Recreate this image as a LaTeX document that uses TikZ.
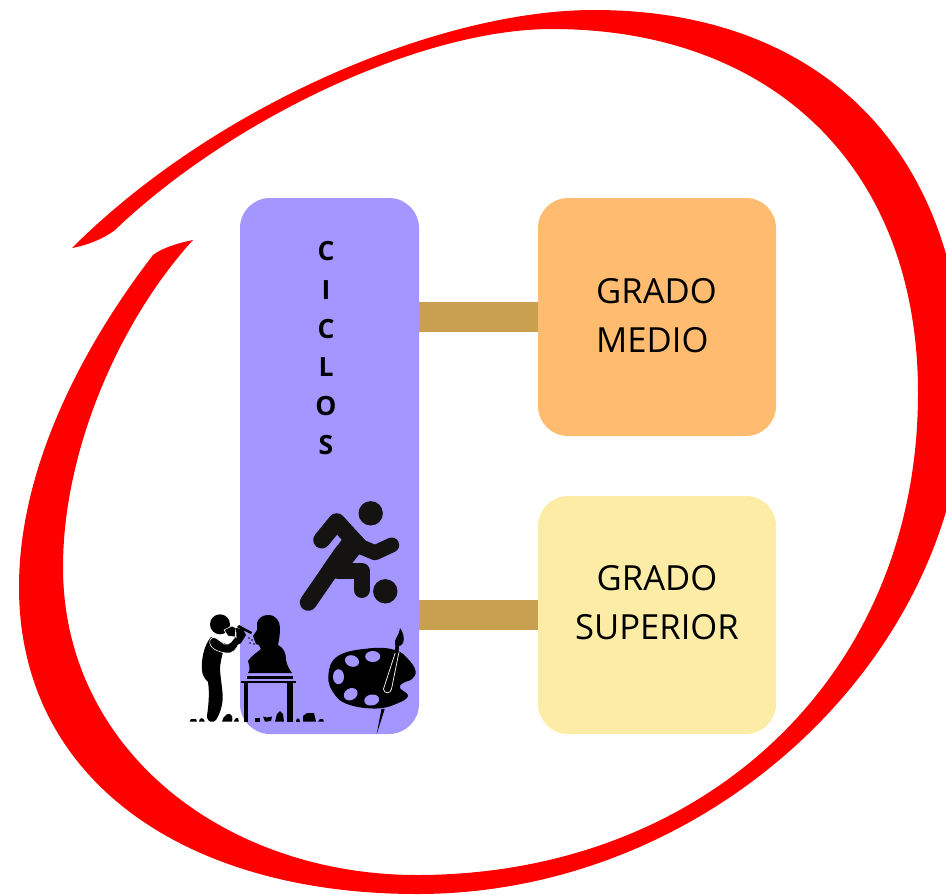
\documentclass[tikz,border=0pt]{standalone}
\usepackage{fontspec}
\setmainfont{Open Sans}
\definecolor{ciclosfill}{HTML}{A397FF}
\definecolor{mediofill}{HTML}{FFBC70}
\definecolor{superiorfill}{HTML}{FDECA6}
\definecolor{connfill}{HTML}{C8A050}
\definecolor{playerink}{HTML}{141312}
\tikzset{
  boxbase/.style={rectangle,draw=none,inner sep=0pt,rounded corners=30pt},
  gradobox/.style={boxbase,minimum width=238pt,minimum height=238pt},
  conn/.style={draw=connfill,line width=30pt},
  gradotext/.style={inner sep=0pt,font=\fontsize{34.6}{49}\selectfont},
  limb/.style={draw=playerink,line width=17pt,line cap=round,line join=round},
  ink/.style={fill=black,draw=none},
}
\begin{document}
\begin{tikzpicture}[x=1pt,y=-1pt]
\useasboundingbox (0,0) rectangle (946,895);
\clip (0,0) rectangle (946,895);
% red swoosh
\fill[red]
  (72,248) .. controls (215,105) and (440,10) .. (594,10)
  .. controls (820,10) and (964,150) .. (964,390)
  .. controls (964,650) and (715,894) .. (417,894)
  .. controls (185,894) and (19,780) .. (19,587)
  .. controls (19,470) and (80,350) .. (153,255)
  .. controls (162,248) and (178,243) .. (193,240)
  .. controls (120,320) and (63,450) .. (63,567)
  .. controls (63,750) and (225,875) .. (417,875)
  .. controls (700,875) and (918,680) .. (918,393)
  .. controls (918,165) and (770,29) .. (552,29)
  .. controls (420,29) and (230,120) .. (115,230)
  .. controls (103,239) and (88,245) .. (72,248) -- cycle;
% boxes
\node[boxbase,minimum width=179pt,minimum height=536pt,fill=ciclosfill] (ciclos) at (329.5,466) {};
\node[gradobox,fill=mediofill] (medio) at (657,317) {};
\node[gradobox,fill=superiorfill] (superior) at (657,615) {};
% connectors
\draw[conn] (ciclos.east |- medio.west) -- (medio.west);
\draw[conn] (ciclos.east |- superior.west) -- (superior.west);
% texts
\node[gradotext,align=left] (mediotext) at (656.5,315.7) {GRADO\\MEDIO};
\node[gradotext,align=center] (superiortext) at (657,603) {GRADO\\SUPERIOR};
\node[inner sep=0pt,align=center,font=\fontsize{26.5}{38.8}\selectfont\bfseries] (cicloslabel) at (326,348) {C\\I\\C\\L\\O\\S};
% football player
\fill[playerink] (370.7,513.3) circle (12.2);
\fill[playerink] (385.3,591.3) circle (12.2);
\fill[playerink] (336,519) -- (365,547) -- (350,566) -- (331,580) -- (323,566) -- (343,538) -- cycle;
\draw[limb] (321.7,540) -- (336.7,521.7) -- (359,546);
\draw[limb,line width=15pt] (359,546) -- (375,552.7) -- (391.7,545);
\draw[limb] (308.3,602.3) -- (343,552);
\draw[limb,line width=16pt] (338,571) -- (361.7,571) -- (361.7,590);
% sculptor
\fill[ink] (220,624.3) circle (10);
\fill[ink] (211,637) .. controls (204,645) and (201,660) .. (202,670) .. controls (202,675) and (205,679) .. (208,682) .. controls (210,695) and (208,708) .. (207,716) .. controls (207,723) and (214,723) .. (216,720) .. controls (221,712) and (223,703) .. (222.7,695) .. controls (222,685) and (220,675) .. (220,667) .. controls (221,660) and (222,656) .. (223,652) -- (233,650) -- (238,640) -- (228,645) -- cycle;
\draw[white,line width=0.6pt,fill=black] (210,640) .. controls (214,634) and (218,640) .. (224,644) .. controls (230,646) and (232,640) .. (236,636) -- (239,642) .. controls (237,650) and (232,654) .. (226,653) .. controls (218,652) and (208,648) .. (210,640) -- cycle;
\draw[white,line width=0.6pt,fill=black] (224,630) -- (232,626) -- (236,628) -- (235,637) -- (228,636) -- cycle;
\fill[ink] (236,628) -- (243,629) -- (246,635) -- (241,643) -- (237,645) -- cycle;
\fill[ink] (237,627) -- (239,625) -- (252,632) -- (251,634) -- cycle;
\fill[ink] (249,638) circle (0.9);
\fill[ink] (252,640) circle (0.9);
\fill[ink] (250,643) circle (0.9);
\fill[ink] (254,644) circle (0.9);
% bust
\fill[ink] (268,615) .. controls (276,615) and (280,621) .. (280,628) .. controls (280,635) and (279,640) .. (278,645) .. controls (284,648) and (286,653) .. (286,660) .. controls (287,666) and (290,670) .. (292,673) -- (248,673) .. controls (251,670) and (249,665) .. (248,661) .. controls (252,655) and (258,652) .. (261,649) -- (259,645) -- (256,644) -- (253,636) -- (257,630) -- (257,623) .. controls (258,618) and (263,615) .. (268,615) -- cycle;
\fill[ink] (246.7,675.7) rectangle (292.7,679);
\fill[ink] (241,680.7) rectangle (296,683);
\fill[ink] (244,683) rectangle (248,721.7);
\fill[ink] (287,683) rectangle (292.5,721.7);
% ground rocks
\fill[ink] (189.5,721.7) -- (191,719) -- (196,719) -- (197,721.7) -- cycle;
\fill[ink] (199,721.7) .. controls (199,718) and (203,716) .. (205,721.7) -- cycle;
\fill[ink] (222,721.7) .. controls (223,715) and (230,711) .. (232,716) .. controls (233,719) and (232,720) .. (232,721.7) -- cycle;
\fill[ink] (233.5,721.7) -- (236,718) -- (238,718) -- (239,721.7) -- cycle;
\fill[ink] (255,721.7) -- (255,717.5) -- (260,717.5) -- (260,721.7) -- cycle;
\fill[ink] (263,716.5) -- (267,717.5) -- (272,716.5) -- (271,721) -- (265,721.7) -- cycle;
\fill[ink] (275,721.7) -- (277,714) -- (280,711) -- (283,714) -- (284,721.7) -- cycle;
\fill[ink] (296,721.7) .. controls (296,717) and (300,717) .. (300,721.7) -- cycle;
\fill[ink] (303,721.7) -- (303,716) -- (307,713) -- (314,713) -- (316,721.7) -- cycle;
\fill[ink] (318,721.7) -- (320,719) -- (323,719) -- (324,721.7) -- cycle;
% palette
\fill[ink] plot[smooth cycle,tension=0.7] coordinates {(328.3,676) (338,656) (370,648.3) (395,650) (408,659) (415.5,671) (412,679) (403,683) (400,688) (408,696) (396,704) (376.7,708.5) (350,705) (335,695)};
\fill[ciclosfill] (352,661) ellipse [x radius=7.2,y radius=5.6,rotate=-20];
\fill[ciclosfill] (372.7,656.5) ellipse [x radius=7.5,y radius=5.5];
\fill[ciclosfill] (338.5,676.7) ellipse [x radius=5.5,y radius=7.5];
\fill[ciclosfill] (350.7,694.2) ellipse [x radius=7.2,y radius=5.8,rotate=30];
\fill[ciclosfill] (371.7,700) ellipse [x radius=7.5,y radius=5.5,rotate=10];
% brush
\draw[white,line width=0.7pt,fill=black,line join=round] (395.5,652) -- (399,652) -- (391.5,689) .. controls (391,694) and (383.5,694) .. (383.5,689) -- cycle;
\draw[black,line width=3.6pt] (397.2,644) -- (396.8,653);
\fill[ink] (400,628) .. controls (403,632) and (405,638) .. (403,643) .. controls (401,647) and (396,647) .. (395,644) .. controls (394,639) and (399,636) .. (400,628) -- cycle;
\fill[ink] (381.5,709) -- (384.7,709) -- (376.7,734) -- cycle;
\end{tikzpicture}
\end{document}
